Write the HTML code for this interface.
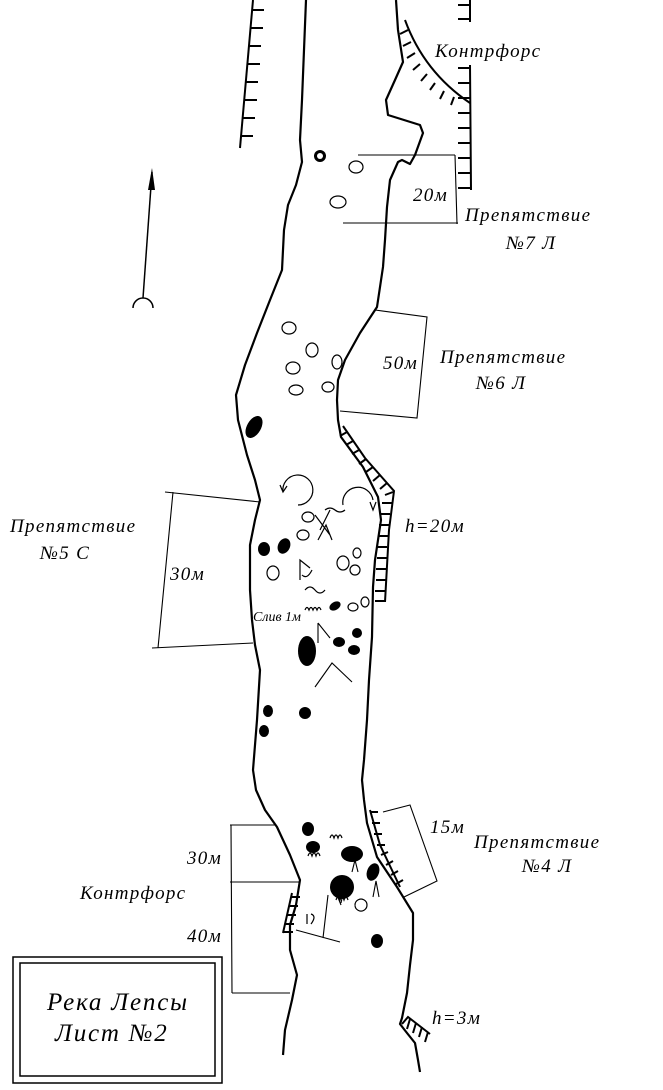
<!DOCTYPE html>
<html><head><meta charset="utf-8"><style>
html,body{margin:0;padding:0;background:#fff}
svg{display:block}
text{font-family:"Liberation Serif",serif;font-style:italic;fill:#000}
</style></head><body>
<svg width="663" height="1090" viewBox="0 0 663 1090" xmlns="http://www.w3.org/2000/svg">
<g fill="none" stroke="#000" stroke-width="2.2" stroke-linejoin="round">
<path d="M306 0 L304 50 L302 100 L300 140 L302 162 L296 185 L288 205 L284 230 L282 270 L270 300 L257 333 L245 365 L236 395 L238 420 L247 455 L255 480 L260 500 L255 520 L250 545 L250 590 L252 620 L255 645 L260 670 L257 720 L253 770 L256 790 L265 810 L277 827 L290 855 L300 880 L296 905 L290 925 L290 950 L297 975 L292 1000 L285 1030 L283 1055"/>
<path d="M396 0 L398 30 L403 62 L395 80 L386 100 L388 115 L420 125 L423 133 L415 155 L410 164 L402 160 L398 162 L390 180 L387 207 L385 240 L383 267 L377 307 L360 333 L345 360 L338 380 L337 400 L338 420 L341 437 L363 467 L378 497 L381 520 L375 560 L373 587 L372 637 L369 680 L367 720 L364 760 L362 780 L364 800 L367 823 L377 857 L397 887 L413 913 L413 940 L410 965 L407 993 L402 1018 L400 1024 L407 1033 L415 1043 L418 1060 L420 1072"/>
</g>
<g fill="none" stroke="#000" stroke-width="2">
<path d="M253 0 L240 148"/>
<path d="M252 10h12M251 28h12M249 46h12M248 64h12M246 82h12M245 100h12M243 118h12M241 136h12"/>
<path d="M470 0 L470 22 M470 65 L471 190"/>
<path d="M470 5h-12M470 19h-12M470 68h-12M470 83h-12M470 98h-12M470 113h-12M470 128h-12M470 143h-12M470 158h-12M470 173h-12M470 188h-12"/>
<path d="M405 20 Q424 72 470 103"/>
<path d="M408 30l-8 4M411 42l-8 4M415 53l-8 5M420 64l-7 6M427 74l-6 7M435 83l-5 7M444 91l-4 8M454 97l-3 8"/>
<path d="M343 426 L365 458 L394 491 L389 530 L385 602"/>
<path d="M347 432l-7 4M353 441l-7 4M359 450l-7 4M366 459l-7 5M373 467l-7 5M380 475l-7 6M387 483l-7 6M393 492l-8 3M392 503h-10M390 514h-10M389 525h-10M388 536h-10M387 547h-10M387 558h-10M386 569h-10M386 580h-10M385 591h-10M385 601h-10"/>
<path d="M370 810 L380 845 L400 887"/>
<path d="M370 812h8M372 823h8M374 834h8M377 845h8M381 855l7-3M386 865l7-4M391 875l7-4M396 884l7-4"/>
<path d="M292 893 L283 933"/>
<path d="M291 897h9M289 906h9M287 915h9M285 924h9M284 932h9"/>
<path d="M402 1024 L408 1017 L430 1034"/>
<path d="M410 1019l-3 10M416 1023l-3 10M422 1027l-3 10M428 1032l-3 10"/>
</g>
<g fill="none" stroke="#000" stroke-width="1.1">
<path d="M358 155H455M455 155L457 224M343 223H458"/>
<path d="M375 310L427 317L417 418L340 411"/>
<path d="M165 492L260 502M173 492L158 648M152 648L253 643"/>
<path d="M383 812L410 805L437 881L404 897"/>
<path d="M230 825H275M231 825L232 993M230 882L300 882M232 993L290 993"/>
<path d="M296 930L340 942M328 895L323 938"/>
<path d="M318 623V643M318 623L330 638M315 687L332 663L352 682"/>
<path d="M352 872l3-12 3 12M373 897l3-16 3 16M341 903l3-14M337 895l4 10"/>
</g>
<g fill="none" stroke="#000" stroke-width="1.5">
<path d="M143 298L152 172"/>
<path d="M133 308 A10 10 0 0 1 153 308"/>
</g>
<path d="M152 168L148 190L155 190Z" fill="#000"/>
<g fill="none" stroke="#000" stroke-width="1.2">
<ellipse cx="356" cy="167" rx="7" ry="6"/>
<ellipse cx="338" cy="202" rx="8" ry="6"/>
<ellipse cx="289" cy="328" rx="7" ry="6"/>
<ellipse cx="312" cy="350" rx="6" ry="7"/>
<ellipse cx="293" cy="368" rx="7" ry="6"/>
<ellipse cx="337" cy="362" rx="5" ry="7"/>
<ellipse cx="296" cy="390" rx="7" ry="5"/>
<ellipse cx="328" cy="387" rx="6" ry="5"/>
<ellipse cx="308" cy="517" rx="6" ry="5"/>
<ellipse cx="303" cy="535" rx="6" ry="5"/>
<ellipse cx="273" cy="573" rx="6" ry="7"/>
<ellipse cx="343" cy="563" rx="6" ry="7"/>
<ellipse cx="357" cy="553" rx="4" ry="5"/>
<ellipse cx="355" cy="570" rx="5" ry="5"/>
<ellipse cx="353" cy="607" rx="5" ry="4"/>
<ellipse cx="365" cy="602" rx="4" ry="5"/>
<path d="M283 492 A15 15 0 1 1 298 505M280 485l3 7 4-6"/>
<path d="M343 505 A15 15 0 1 1 373 500M370 502l3 8 3-8"/>
<path d="M325 510q5-4 10 0t10 0M320 530l10-20M315 515l15 20M318 540l8-15 6 15M300 580l0-20 10 8M302 575q5 5 10-5M305 590q5-6 10 0t10 0"/>
<path d="M330 838q2-6 4 0q2-6 4 0q2-6 4 0M308 856q2-6 4 0q2-6 4 0q2-6 4 0M336 900q2-6 4 0q2-6 4 0q2-6 4 0M355 905 a6 6 0 1 1 0 0.1M307 924v-10M311 924q6-8 0-10"/>
<path d="M305 610q2-5 4 0q2-5 4 0q2-5 4 0q2-5 4 0"/>
</g>
<g fill="#000">
<circle cx="320" cy="156" r="6"/>
<circle cx="320" cy="156" r="3" fill="#fff"/>
<ellipse cx="254" cy="427" rx="7" ry="12" transform="rotate(30 254 427)"/>
<ellipse cx="264" cy="549" rx="6" ry="7"/>
<ellipse cx="284" cy="546" rx="6" ry="8" transform="rotate(25 284 546)"/>
<ellipse cx="335" cy="606" rx="6" ry="4" transform="rotate(-30 335 606)"/>
<ellipse cx="307" cy="651" rx="9" ry="15"/>
<ellipse cx="339" cy="642" rx="6" ry="5"/>
<ellipse cx="357" cy="633" rx="5" ry="5"/>
<ellipse cx="354" cy="650" rx="6" ry="5"/>
<ellipse cx="268" cy="711" rx="5" ry="6"/>
<ellipse cx="264" cy="731" rx="5" ry="6"/>
<ellipse cx="305" cy="713" rx="6" ry="6"/>
<ellipse cx="308" cy="829" rx="6" ry="7"/>
<ellipse cx="313" cy="847" rx="7" ry="6"/>
<ellipse cx="352" cy="854" rx="11" ry="8"/>
<ellipse cx="373" cy="872" rx="6" ry="9" transform="rotate(20 373 872)"/>
<ellipse cx="342" cy="887" rx="12" ry="12"/>
<ellipse cx="377" cy="941" rx="6" ry="7"/>
</g>
<g font-size="19" letter-spacing="1.3">
<text x="435" y="57">Контрфорс</text>
<text x="413" y="201">20м</text>
<text x="465" y="221">Препятствие</text>
<text x="506" y="249">№7 Л</text>
<text x="383" y="369">50м</text>
<text x="440" y="363">Препятствие</text>
<text x="476" y="389">№6 Л</text>
<text x="10" y="532">Препятствие</text>
<text x="40" y="559">№5 С</text>
<text x="170" y="580">30м</text>
<text x="405" y="532">h=20м</text>
<text x="430" y="833">15м</text>
<text x="474" y="848">Препятствие</text>
<text x="522" y="872">№4 Л</text>
<text x="187" y="864">30м</text>
<text x="80" y="899">Контрфорс</text>
<text x="187" y="942">40м</text>
<text x="432" y="1024">h=3м</text>
</g>
<text x="253" y="621" font-size="14">Слив 1м</text>
<rect x="13" y="957" width="209" height="126" fill="none" stroke="#000" stroke-width="1.5"/>
<rect x="20" y="963" width="195" height="113" fill="none" stroke="#000" stroke-width="1.5"/>
<text x="47" y="1010" font-size="25" letter-spacing="1.8">Река Лепсы</text>
<text x="55" y="1041" font-size="25" letter-spacing="1.8">Лист №2</text>
</svg>
</body></html>
